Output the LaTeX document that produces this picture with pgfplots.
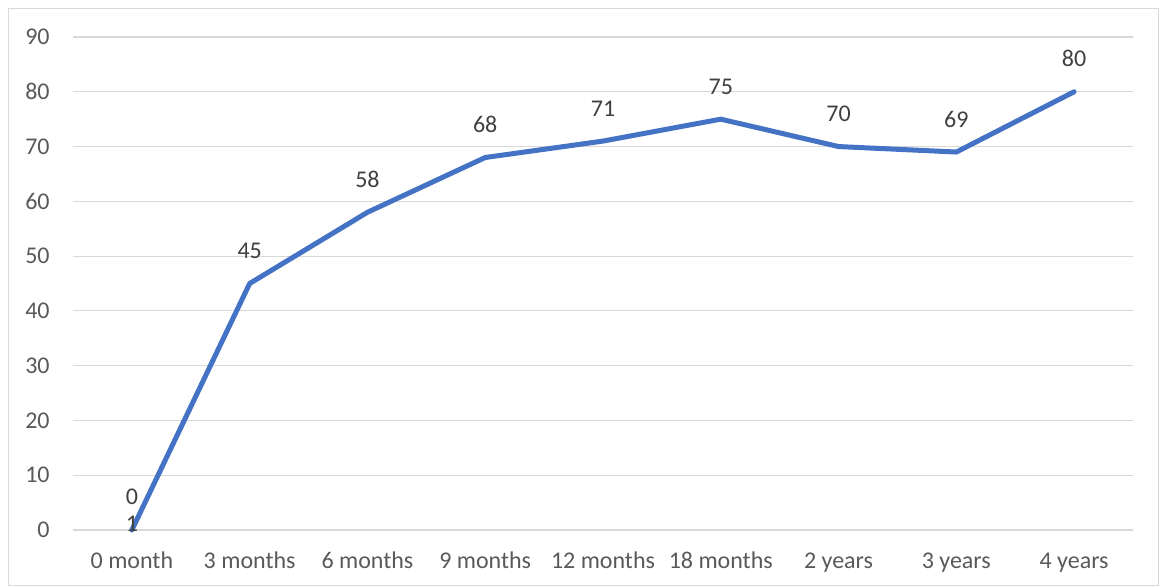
\documentclass[border=0pt]{standalone}
\usepackage{fontspec}
\setmainfont{Carlito}
\usepackage{pgfplots}
\pgfplotsset{compat=1.18}
\pgfkeys{/pgf/number format/assume math mode=true}
\definecolor{xlblue}{HTML}{4472C4}
\definecolor{gridc}{HTML}{D9D9D9}
\definecolor{txt}{HTML}{595959}
\definecolor{lbl}{HTML}{404040}
\begin{document}
\begin{tikzpicture}
\path[use as bounding box] (0pt,0pt) rectangle (580pt,293.5pt);
\draw[gridc, line width=0.5pt] (4.25pt,0.5pt) rectangle (579.25pt,289.25pt);
\begin{axis}[
  at={(36.5pt,28.5pt)}, anchor=south west,
  scale only axis, width=530pt, height=246.5pt,
  xmin=-0.5, xmax=8.5, ymin=0, ymax=90,
  xtick={0,...,8},
  xticklabels={0 month,3 months,6 months,9 months,12 months,18 months,2 years,3 years,4 years},
  ytick={0,10,...,90},
  /pgf/number format/assume math mode=true,
  axis line style={draw=none},
  major tick length=0pt,
  ymajorgrids, grid style={gridc, line width=0.6pt},
  tick label style={font=\fontsize{12}{14}\selectfont, text=txt},
  yticklabel style={anchor=east, inner sep=0pt, xshift=-11.5pt},
  xticklabel style={anchor=base, inner sep=0pt, yshift=-19.5pt},
  clip=false,
]
\addplot[xlblue, line width=2.5pt, line join=round, line cap=round,
  nodes near coords,
  every node near coord/.append style={anchor=base, inner sep=0pt, yshift=12.5pt, text=lbl, font=\fontsize{12}{14}\selectfont},
] coordinates {(0,0) (1,45) (2,58) (3,68) (4,71) (5,75) (6,70) (7,69) (8,80)};
\addplot[draw=none, mark=none,
  point meta=explicit symbolic,
  nodes near coords,
  every node near coord/.append style={anchor=base, inner sep=0pt, yshift=-1pt, text=lbl, font=\fontsize{12}{14}\selectfont},
] coordinates {(0,0) [1]};
\end{axis}
\end{tikzpicture}
\end{document}
